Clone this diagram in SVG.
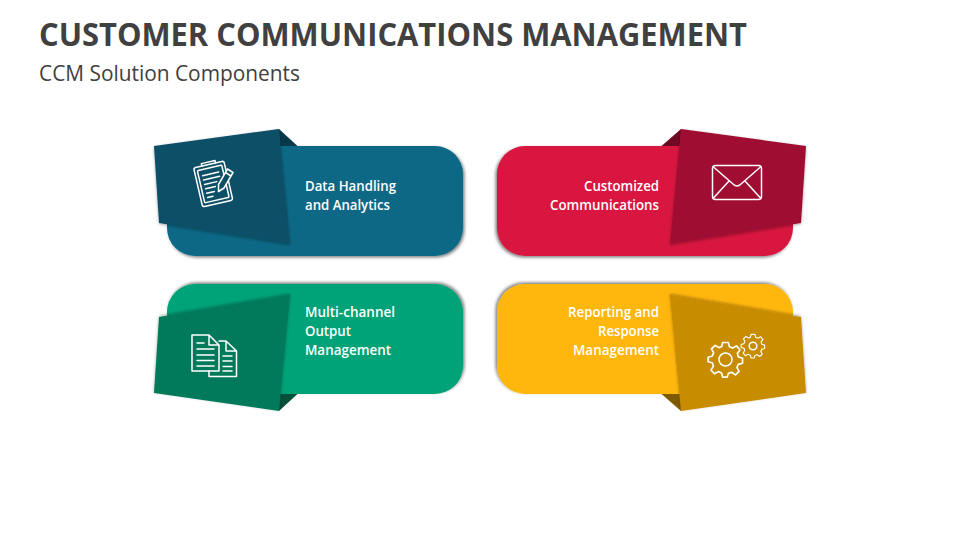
<svg xmlns="http://www.w3.org/2000/svg" width="960" height="540" viewBox="0 0 960 540">
<defs>
<filter id="shBR" x="-10%" y="-15%" width="120%" height="130%"><feDropShadow dx="1.500" dy="1.500" stdDeviation="1.800" flood-color="#000" flood-opacity="0.5"/></filter>
<filter id="shBL" x="-10%" y="-15%" width="120%" height="130%"><feDropShadow dx="-1.500" dy="1.500" stdDeviation="1.800" flood-color="#000" flood-opacity="0.5"/></filter>
<filter id="shTR" x="-10%" y="-15%" width="120%" height="130%"><feDropShadow dx="1.500" dy="-1.500" stdDeviation="1.800" flood-color="#000" flood-opacity="0.5"/></filter>
<filter id="shTL" x="-10%" y="-15%" width="120%" height="130%"><feDropShadow dx="-1.500" dy="-1.500" stdDeviation="1.800" flood-color="#000" flood-opacity="0.5"/></filter>
<filter id="fB" x="-10%" y="-10%" width="120%" height="120%"><feDropShadow dx="0" dy="1" stdDeviation="1.500" flood-color="#000" flood-opacity="0.35"/></filter>
<filter id="fT" x="-10%" y="-10%" width="120%" height="120%"><feDropShadow dx="0" dy="-1" stdDeviation="1.500" flood-color="#000" flood-opacity="0.35"/></filter>
<g id="gear"><path d="M-2.6-15.5 L2.6-15.5 L3.6-11.6 L6.6-10.4 L10-12.4 L13.2-8.6 L10.8-5.6 L11.6-2.4 L15.5-1.2 L15.5 3.4 L11.6 4.4 L10.4 7.4 L12.4 10.8 L9 14 L5.6 11.6 L2.6 12.6 L1.6 16 L-2.6 16 L-3.6 12.2 L-6.6 11 L-10 13 L-13.2 9.6 L-11 6 L-12 3 L-15.8 2 L-15.8-2 L-12-3.2 L-10.8-6.2 L-12.8-9.6 L-9.4-12.8 L-6-10.8 L-3.4-11.8Z" class="ico"/></g>
</defs>
<style>
text{font-family:"Open Sans","Noto Sans","Liberation Sans",sans-serif}
.title{font-size:33px;font-weight:700;fill:#404040}
.sub{font-size:21px;fill:#404040}
.lbl{font-size:14px;font-weight:600;fill:#fff}
.end{text-anchor:end}
.ico{fill:none;stroke:#fff;stroke-width:1.500;stroke-linejoin:round;stroke-linecap:round}
</style>
<rect width="960" height="540" fill="#fff"/>
<text class="title" x="39" y="46" textLength="708" lengthAdjust="spacingAndGlyphs">CUSTOMER COMMUNICATIONS MANAGEMENT</text>
<text class="sub" x="39" y="81" textLength="261" lengthAdjust="spacingAndGlyphs">CCM Solution Components</text>

<g id="node-data">
<rect filter="url(#shBR)" x="167" y="146" width="296" height="110" rx="28" fill="#0E6785"/>
<polygon points="279,129 297.500,146 278,146" fill="#07394A"/>
<polygon filter="url(#fB)" points="154,146 279,129 290,244 159,223" fill="#0B4F66"/>
<g id="icon-clipboard" transform="translate(213,183) rotate(-13)">
<rect class="ico" x="-15.500" y="-19" width="31" height="40" rx="2"/>
<rect class="ico" x="-12.500" y="-15.500" width="25" height="33" rx="1"/>
<path class="ico" d="M-7-19 L-7-21.500 L7-21.500 L7-19 M-8.500-9.500 H8 M-8.500-5 H8 M-8.500-.5 H4 M-8.500 4 H1.500 M-8.500 8.500 H-0.500 M-8.500 13 H-3"/>
</g>
<path class="ico" d="M227.500 169 L233 172.500 L224 188 L218.500 191.500 L218.500 184.500 Z M225.500 172.500 L231 176" style="fill:#0B4F66"/>
<text class="lbl" x="305" y="191" textLength="91" lengthAdjust="spacingAndGlyphs">Data Handling</text>
<text class="lbl" x="305" y="210" textLength="85" lengthAdjust="spacingAndGlyphs">and Analytics</text>
</g>

<g id="node-custom">
<rect filter="url(#shBL)" x="497" y="146" width="296" height="110" rx="28" fill="#D91640"/>
<polygon points="681,129 661.500,146 682,146" fill="#6F0A23"/>
<polygon filter="url(#fB)" points="681,129 806,146 801,223 670,244" fill="#A00F32"/>
<g id="icon-mail">
<rect class="ico" x="712.500" y="165.500" width="49" height="34" rx="3"/>
<path class="ico" d="M713.500 167 L733 184 Q737 188 741 184 L760.500 167 M713.500 198 L729 181 M760.500 198 L745 181"/>
</g>
<text class="lbl end" x="659" y="191" textLength="75" lengthAdjust="spacingAndGlyphs">Customized</text>
<text class="lbl end" x="659" y="210" textLength="109" lengthAdjust="spacingAndGlyphs">Communications</text>
</g>

<g id="node-output">
<rect filter="url(#shTR)" x="167" y="284" width="296" height="110" rx="28" fill="#05A277"/>
<polygon points="279,411 297.500,394 278,394" fill="#04503B"/>
<polygon filter="url(#fT)" points="290,295 279,411 154,393 159,317" fill="#057A5A"/>
<g id="icon-docs">
<path class="ico" d="M192 335 H209 L219 345 V371 H192 Z M209 335 V345 H219"/>
<path class="ico" d="M219 341 H226 L236.500 351 V376.500 H209 V371 M226 341 V351 H236.500"/>
<path class="ico" d="M197 343 H204 M197 349 H214 M197 355 H214 M197 360.500 H214 M197 366 H214 M223 356 H232 M223 361 H232 M223 366.500 H232 M223 371 H232"/>
</g>
<text class="lbl" x="305" y="317" textLength="90" lengthAdjust="spacingAndGlyphs">Multi-channel</text>
<text class="lbl" x="305" y="336" textLength="46" lengthAdjust="spacingAndGlyphs">Output</text>
<text class="lbl" x="305" y="355" textLength="86" lengthAdjust="spacingAndGlyphs">Management</text>
</g>

<g id="node-report">
<rect filter="url(#shTL)" x="497" y="284" width="296" height="110" rx="28" fill="#FFB60C"/>
<polygon points="681,411 661.500,394 682,394" fill="#7F5A00"/>
<polygon filter="url(#fT)" points="670,295 801,317 806,393 681,411" fill="#C78C00"/>
<g id="icon-gears">
<use href="#gear" transform="translate(725.500,359.500) scale(1.100)"/>
<circle class="ico" cx="725.500" cy="359.500" r="6.500"/>
<use href="#gear" transform="translate(753,346) scale(0.750)"/>
<circle class="ico" cx="753" cy="346" r="3.800"/>
</g>
<text class="lbl end" x="659" y="317" textLength="91" lengthAdjust="spacingAndGlyphs">Reporting and</text>
<text class="lbl end" x="659" y="336" textLength="61" lengthAdjust="spacingAndGlyphs">Response</text>
<text class="lbl end" x="659" y="355" textLength="86" lengthAdjust="spacingAndGlyphs">Management</text>
</g>
</svg>
